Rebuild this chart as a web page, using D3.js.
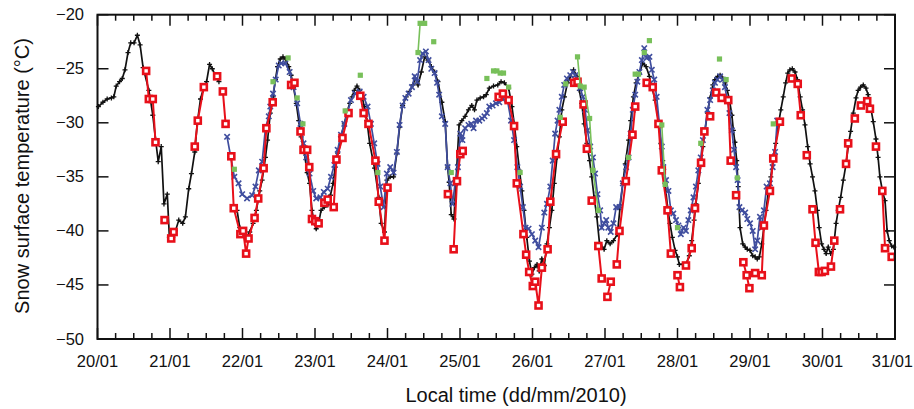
<!DOCTYPE html>
<html>
<head>
<meta charset="utf-8">
<script src="https://cdn.jsdelivr.net/npm/d3@7"></script>
<style>
  body { margin: 0; background: #fff; }
  text { font-family: "Liberation Sans", Arial, sans-serif; fill: #111; }
</style>
</head>
<body>
<div id="canvas"></div>
<script>
"use strict"

/* Values: [hours since 20/01 00:00, temperature in °C], null = gap */
let dayLabels = ["20/01", "21/01", "22/01", "23/01", "24/01", "25/01", "26/01", "27/01", "28/01", "29/01", "30/01", "31/01"];
let tempTicks = [-20, -25, -30, -35, -40, -45, -50];

let blackSeries = [
  [0.3,-28.5],[1.8,-28.1],[3.2,-27.8],[4.6,-27.7],[5.4,-27.6],[6.2,-26.6],[7.3,-26.2],[8.2,-25.9],[9.1,-25.1],
  [10.1,-23.5],[11.0,-22.6],[12.1,-22.6],[13.2,-21.9],[14.1,-22.8],[15.1,-24.9],[17.0,-27.0],[17.5,-27.8],
  [18.3,-29.3],[19.2,-31.5],[20.1,-33.6],[21.1,-32.2],[22.0,-37.5],[23.1,-36.6],[23.8,-40.6],[24.9,-40.6],
  [25.8,-40.0],[26.9,-39.0],[28.2,-39.3],[29.1,-38.7],[30.2,-36.1],[31.1,-34.7],[32.2,-32.7],[33.0,-30.1],
  [34.1,-27.8],[34.9,-27.0],[36.1,-26.2],[37.1,-24.6],[38.0,-25.0],[39.1,-25.7],[40.2,-26.2],
  null,
  [46.2,-38.1],[47.1,-39.7],[48.2,-40.1],[49.3,-40.6],[50.4,-40.1],[51.5,-39.3],[52.6,-38.1],[53.7,-36.3],
  [54.5,-35.3],[55.6,-33.2],[56.3,-31.6],[57.2,-29.1],[58.1,-27.6],[58.9,-26.0],[59.6,-24.8],[60.5,-24.1],
  [61.4,-23.9],[62.2,-24.1],[63.3,-24.8],[64.1,-25.6],[64.9,-26.7],[65.8,-28.2],[66.6,-29.8],[67.4,-31.3],
  [68.5,-32.8],[69.4,-34.6],[70.2,-35.6],[71.0,-38.1],[71.8,-39.3],[72.4,-39.8],[73.2,-39.3],[74.0,-38.1],
  [75.1,-37.8],[76.2,-37.6],[77.1,-36.7],[78.0,-35.6],[78.7,-34.1],[79.5,-32.8],[80.6,-31.3],[81.7,-30.1],
  [82.6,-29.0],[83.5,-28.2],[84.3,-27.6],[85.0,-27.0],[85.9,-26.6],[86.8,-27.0],[87.6,-27.6],[88.3,-28.5],
  [89.2,-29.8],[90.1,-31.9],[91.7,-34.2],[93.1,-36.9],[93.9,-39.3],[95.0,-40.1],[95.8,-35.3],[96.9,-35.0],
  [98.0,-35.0],[99.1,-32.8],[100.0,-30.4],[101.0,-28.4],[102.2,-27.6],[103.3,-27.1],[104.4,-26.5],[105.2,-25.9],
  [106.1,-26.5],[107.2,-25.3],[108.3,-23.9],[109.4,-24.2],[110.5,-24.8],[111.6,-25.3],[112.7,-26.2],[114.0,-28.1],
  [115.1,-29.9],[115.9,-34.1],[116.4,-35.5],[117.1,-38.5],[118.0,-38.9],[119.7,-30.2],[120.6,-29.8],[121.7,-29.4],
  [122.8,-28.8],[123.9,-28.4],[124.8,-28.8],[125.6,-27.9],[126.7,-27.7],[127.8,-27.6],[128.7,-27.4],[129.7,-26.8],
  [131.1,-26.6],[132.5,-26.5],[133.6,-26.2],[134.7,-26.3],[136.1,-26.8],[137.2,-28.5],[138.0,-30.2],[138.8,-32.2],
  [139.7,-34.4],[140.5,-36.3],[141.2,-38.1],[142.1,-40.6],[143.0,-42.8],[143.8,-44.0],[144.6,-43.4],[145.5,-43.1],
  [146.2,-43.7],[147.1,-42.6],[147.9,-43.2],[148.8,-41.2],[149.6,-39.7],[150.4,-38.1],[151.2,-35.6],[152.1,-33.2],
  [152.9,-31.3],[153.7,-28.8],[154.6,-27.6],[155.6,-26.3],[156.5,-25.7],[157.6,-25.1],[158.7,-25.7],[159.5,-27.0],
  [160.3,-28.2],[161.1,-30.1],[162.0,-31.9],[162.9,-33.5],[163.6,-35.0],[164.4,-36.9],[165.3,-38.7],[166.2,-41.2],
  [167.0,-41.5],[167.7,-41.7],[168.6,-40.9],[169.7,-41.2],[170.8,-40.9],[172.1,-40.3],[173.0,-37.8],[173.9,-35.6],
  [174.7,-33.8],[175.8,-31.6],[176.5,-29.8],[177.4,-27.6],[178.3,-26.3],[179.4,-25.4],[180.5,-24.5],[181.6,-24.8],
  [182.7,-25.7],[183.5,-26.7],[184.6,-27.9],[185.7,-29.8],[186.5,-31.9],[187.1,-33.5],[187.9,-35.6],[188.7,-37.8],
  [189.5,-39.3],[190.3,-40.6],[191.2,-41.8],[192.0,-42.4],[192.6,-43.1],[193.7,-43.1],[194.8,-43.1],[195.9,-42.3],
  [196.7,-40.9],[197.5,-39.0],[198.1,-37.5],[198.9,-35.6],[199.7,-33.8],[200.4,-32.2],[201.1,-30.7],[201.9,-29.1],
  [202.8,-27.7],[203.7,-26.5],[204.4,-26.0],[205.3,-25.7],[206.1,-25.6],[207.0,-25.9],[207.7,-26.3],[208.5,-27.0],
  [209.2,-27.9],[210.0,-29.3],[210.5,-30.7],[211.0,-31.8],[211.6,-33.5],[212.1,-35.9],[212.7,-39.7],[213.6,-41.2],
  [214.4,-41.5],[215.1,-41.7],[216.0,-41.8],[216.9,-42.3],[217.7,-42.4],[218.4,-42.6],[219.1,-42.4],[219.9,-41.2],
  [220.6,-39.7],[221.3,-38.1],[222.1,-36.3],[222.9,-35.0],[223.7,-33.2],[224.5,-31.9],[225.4,-30.2],[226.2,-28.8],
  [227.0,-27.6],[227.8,-26.3],[228.5,-25.4],[229.2,-25.1],[230.0,-25.0],[230.9,-25.3],[231.7,-26.0],[232.6,-27.6],
  [233.4,-28.8],[234.2,-30.2],[235.1,-32.2],[235.9,-33.8],[236.7,-35.0],[237.5,-36.3],[238.3,-38.1],[238.9,-39.7],
  [239.7,-41.2],[240.5,-41.7],[241.2,-42.1],[241.9,-41.5],[242.7,-42.1],[243.6,-41.7],[244.5,-39.3],[245.2,-38.1],
  [246.0,-36.9],[246.9,-35.3],[247.8,-33.8],[248.5,-32.2],[249.3,-30.8],[250.2,-29.1],[251.1,-27.7],[251.8,-27.0],
  [252.6,-26.7],[253.5,-26.5],[254.4,-26.8],[255.1,-27.4],[255.9,-28.5],[256.8,-29.9],[257.7,-31.5],[258.4,-33.2],
  [259.0,-35.0],[259.9,-36.4],[260.7,-37.2],[261.4,-40.0],[262.1,-40.9],[262.9,-41.4],[263.6,-41.5]
];

let blueSeries = [
  [42.9,-31.3],[45.3,-35.0],[46.7,-35.6],[47.9,-36.6],[49.5,-37.0],[51.2,-36.7],[52.3,-35.9],[53.4,-34.4],
  [54.5,-33.6],[55.6,-30.5],[56.7,-29.4],[57.2,-28.5],[58.1,-27.3],[59.0,-26.0],[60.0,-24.7],[60.8,-24.5],
  [62.2,-24.5],[63.6,-25.3],[64.9,-26.7],[66.1,-28.2],[67.2,-30.1],[68.2,-31.9],[69.1,-33.2],[70.2,-34.7],
  [71.4,-36.3],[72.4,-37.0],[73.8,-36.9],[74.9,-36.4],[76.2,-36.1],[77.3,-35.0],[78.4,-33.9],[79.5,-32.5],
  [80.6,-31.1],[81.7,-30.1],[82.8,-29.0],[83.9,-27.9],[85.3,-27.3],[86.8,-27.1],[88.1,-27.6],[89.4,-28.5],
  [90.5,-30.1],[91.6,-31.9],[92.7,-33.8],[93.6,-35.9],[94.7,-37.8],[95.8,-34.7],[96.9,-34.1],[98.0,-34.6],
  [99.1,-32.7],[100.0,-30.2],[101.0,-28.4],[101.9,-27.7],[103.0,-27.3],[104.1,-26.7],[105.0,-25.7],[105.8,-26.2],
  [106.8,-24.2],[107.6,-23.6],[108.7,-23.4],[109.6,-24.2],[110.5,-25.0],[111.6,-25.4],[112.4,-26.3],[113.1,-27.4],
  [114.0,-29.4],[115.1,-30.1],[115.9,-34.1],[116.8,-35.6],[117.5,-37.5],[118.4,-35.6],[119.3,-34.1],[120.1,-31.0],
  [120.8,-31.6],[121.7,-30.5],[122.8,-30.2],[123.7,-30.1],[124.5,-30.5],[125.3,-29.8],[126.4,-29.8],[127.3,-29.6],
  [128.1,-29.4],[128.9,-29.1],[129.7,-28.5],[130.8,-28.4],[131.9,-28.2],[133.0,-28.1],[134.1,-27.8],[135.7,-27.9],
  [136.9,-29.8],[137.9,-31.6],[139.0,-34.1],[139.9,-35.9],[140.8,-37.8],[141.7,-39.7],[142.7,-39.8],[143.8,-40.3],
  [144.9,-40.9],[146.0,-41.5],[147.1,-39.7],[147.9,-38.3],[148.8,-37.5],[149.9,-35.9],[150.7,-33.5],[151.5,-31.0],
  [152.3,-29.8],[152.9,-28.8],[153.7,-27.6],[154.5,-26.5],[155.4,-25.9],[156.5,-25.6],[157.4,-25.3],[158.1,-25.6],
  [158.9,-26.3],[159.8,-26.8],[160.7,-27.6],[161.4,-28.8],[162.2,-30.7],[163.1,-32.2],[164.0,-33.2],[164.7,-34.7],
  [165.5,-36.6],[166.4,-38.1],[166.9,-39.7],[167.7,-39.3],[168.4,-39.0],[169.1,-39.7],[169.9,-40.1],[170.8,-39.3],
  [171.7,-37.8],[172.8,-37.8],[173.9,-35.6],[175.0,-34.1],[175.8,-33.2],[176.5,-31.0],[177.2,-28.8],[178.0,-27.4],
  [178.7,-26.2],[179.4,-25.3],[180.2,-24.2],[181.0,-23.1],[181.8,-24.0],[182.7,-23.9],[183.5,-25.1],[184.3,-26.0],
  [185.1,-27.6],[186.0,-30.1],[186.8,-32.2],[187.3,-34.1],[188.2,-35.3],[189.0,-36.3],[189.8,-38.1],[190.6,-38.4],
  [191.5,-39.0],[192.3,-39.5],[193.1,-40.3],[194.0,-39.7],[194.8,-40.0],[195.6,-39.0],[196.4,-38.1],[197.3,-36.9],
  [198.1,-35.9],[198.9,-34.4],[199.7,-33.2],[200.4,-31.6],[201.1,-30.7],[201.9,-28.8],[202.8,-27.9],[203.7,-27.0],
  [204.4,-26.3],[205.2,-26.0],[206.1,-25.7],[207.0,-26.0],[207.7,-26.7],[208.5,-27.9],[209.2,-29.1],[210.0,-30.7],
  [210.7,-32.5],[211.4,-34.1],[211.9,-35.3],[212.5,-37.8],[213.3,-38.1],[214.4,-38.3],[215.1,-38.9],[216.0,-39.3],
  [216.9,-40.0],[217.7,-41.7],[218.4,-40.9],[219.3,-38.7],[219.9,-39.7],[220.6,-38.1],[221.5,-35.9],[222.6,-35.6],
  [223.5,-34.1],[224.3,-32.7],[225.0,-29.8]
];

let redSeries = [
  [16.1,-25.2],[17.0,-27.8],[18.3,-27.8],[19.2,-31.8], null,
  [22.2,-39.0], null,
  [24.4,-40.7],[25.2,-40.1], null,
  [32.2,-32.2],[33.2,-29.8],[35.2,-26.7], null,
  [39.6,-25.7], null,
  [41.5,-27.1],[42.4,-30.1], null,
  [44.3,-33.1],[45.1,-37.9],[47.3,-40.3],[48.2,-40.0],[49.2,-42.1],[50.0,-40.7],[52.0,-38.8],[53.2,-37.0],
  [55.0,-34.2],[55.9,-30.5],[58.0,-28.1], null,
  [64.1,-26.5],[65.2,-26.3], null,
  [67.2,-30.8],[68.2,-32.5],[69.4,-32.5],[70.1,-34.1],[71.0,-38.9],[72.1,-39.1],[73.2,-39.3], null,
  [75.1,-37.4],[76.2,-37.1], null,
  [78.2,-37.8],[79.1,-33.4],[81.1,-31.4],[83.1,-29.1], null,
  [87.0,-27.5],[88.1,-29.1],[89.7,-30.1],[92.0,-33.5],[93.1,-37.3],[95.0,-40.9],[96.0,-36.0], null,
  [116.0,-36.6], null,
  [117.9,-41.7],[119.0,-35.4],[120.1,-32.9],[120.9,-32.6], null,
  [132.8,-27.6],[134.2,-27.3],[136.1,-27.9],[137.9,-30.3],[138.8,-35.6],[141.0,-40.3],[141.9,-42.2],[142.9,-43.8],
  [144.1,-45.1],[144.9,-44.7],[146.0,-46.9],[147.1,-43.4],[149.0,-41.7],[149.9,-37.3],[151.8,-32.9],[154.0,-29.9], null,
  [157.8,-26.3],[158.9,-26.2], null,
  [160.9,-28.3],[162.0,-32.4], null,
  [163.6,-37.2], null,
  [165.8,-41.4],[166.9,-44.4], null,
  [168.8,-46.1],[169.9,-44.7], null,
  [171.9,-43.1],[172.8,-40.0],[174.9,-35.4],[177.1,-31.1],[178.0,-28.5], null,
  [181.8,-26.3],[183.8,-26.7],[185.7,-30.1],[186.8,-34.4],[188.7,-38.1],[189.8,-42.1], null,
  [192.0,-44.1],[192.8,-45.2], null,
  [194.8,-43.2],[196.7,-41.6],[197.8,-37.9],[199.8,-33.7],[200.9,-30.8], null,
  [202.8,-29.4], null,
  [204.8,-27.2], null,
  [206.6,-27.7], null,
  [208.8,-27.9],[209.6,-33.5], null,
  [211.4,-36.7], null,
  [213.8,-42.9],[214.9,-44.1],[215.8,-45.3], null,
  [217.7,-43.9], null,
  [219.9,-44.1],[220.6,-39.5],[222.6,-36.3],[223.7,-33.3],[225.9,-29.9], null,
  [229.8,-25.9],[231.8,-26.4],[232.8,-29.3], null,
  [234.8,-33.0], null,
  [236.7,-38.0],[237.7,-41.1],[238.8,-43.8], null,
  [239.7,-43.8],[240.8,-43.7], null,
  [242.8,-43.3],[243.9,-40.9], null,
  [245.8,-38.0], null,
  [247.8,-33.8],[248.5,-31.9], null,
  [250.7,-29.6], null,
  [252.7,-28.4], null,
  [254.8,-28.0],[255.7,-28.7], null,
  [257.7,-32.2], null,
  [259.8,-36.3],[260.7,-41.6], null,
  [262.9,-42.4]
];

let greenSeries = [
  [45.3,-34.3], null, [58.1,-26.2], null, [63.1,-24.0], null, [66.1,-27.7], null, [68.0,-30.1], null,
  [82.0,-28.9], null, [87.0,-25.6], null, [92.8,-34.6], null,
  [106.1,-23.5],[106.8,-20.8],[108.3,-20.8], null, [111.3,-22.5], null, [117.1,-34.6], null,
  [128.9,-25.9], null, [131.1,-25.2],[132.2,-25.2],[133.3,-25.4],[134.4,-25.4], null,
  [136.1,-26.7], null, [139.9,-34.6], null, [153.2,-29.5], null, [155.0,-26.4], null,
  [158.9,-23.9],[159.8,-26.6],[161.1,-26.7],[162.9,-29.6],[164.0,-34.4],[165.8,-38.1], null,
  [175.8,-33.2], null, [178.0,-25.5],[179.1,-25.5], null, [181.0,-23.5], null, [182.7,-22.4], null,
  [186.8,-30.2],[187.9,-35.7], null, [192.0,-39.7], null, [199.7,-31.9], null, [205.9,-24.1], null,
  [208.1,-26.0], null, [211.8,-35.1], null, [223.7,-30.1]
];

/* drawing area */
let drawing = d3.select("#canvas")
    .append("svg")
    .attr("width", 914)
    .attr("height", 409);

let plotLeft = 97.5, plotRight = 895, plotTop = 14.7, plotBottom = 339;

let x = d3.scaleLinear().domain([0, 264]).range([plotLeft, plotRight]);
let y = d3.scaleLinear().domain([-50, -20]).range([plotBottom, plotTop]);

let line = d3.line()
    .defined(d => d !== null)
    .x(d => x(d[0]))
    .y(d => y(d[1]));

let pts = s => s.filter(d => d !== null);

/* ticks on all four sides, pointing inward */
let ticks = drawing.append("g").attr("stroke", "#111").attr("stroke-width", 1.5);
d3.range(0, 265, 6).forEach(h => {
    let len = h % 24 === 0 ? 11 : 6;
    ticks.append("line").attr("x1", x(h)).attr("x2", x(h)).attr("y1", plotBottom).attr("y2", plotBottom - len);
    ticks.append("line").attr("x1", x(h)).attr("x2", x(h)).attr("y1", plotTop).attr("y2", plotTop + len);
});
tempTicks.forEach(t => {
    ticks.append("line").attr("x1", plotLeft).attr("x2", plotLeft + 11).attr("y1", y(t)).attr("y2", y(t));
    ticks.append("line").attr("x1", plotRight).attr("x2", plotRight - 11).attr("y1", y(t)).attr("y2", y(t));
});

/* black series */
drawing.append("path")
    .attr("d", line(blackSeries))
    .attr("fill", "none")
    .attr("stroke", "#111")
    .attr("stroke-width", 1.7);
drawing.append("g").selectAll("path")
    .data(pts(blackSeries))
    .join("path")
    .attr("d", "M-2.5,0H2.5M0,-2.5V2.5")
    .attr("transform", d => `translate(${x(d[0])},${y(d[1])})`)
    .attr("stroke", "#111")
    .attr("stroke-width", 1.3);

/* blue series */
drawing.append("path")
    .attr("d", line(blueSeries))
    .attr("fill", "none")
    .attr("stroke", "#3f4d9e")
    .attr("stroke-width", 1.7);
drawing.append("g").selectAll("path")
    .data(pts(blueSeries))
    .join("path")
    .attr("d", "M-2.7,-2.7L2.7,2.7M-2.7,2.7L2.7,-2.7")
    .attr("transform", d => `translate(${x(d[0])},${y(d[1])})`)
    .attr("stroke", "#3f4d9e")
    .attr("stroke-width", 1.6);

/* red series */
drawing.append("path")
    .attr("d", line(redSeries))
    .attr("fill", "none")
    .attr("stroke", "#e8101a")
    .attr("stroke-width", 2);
drawing.append("g").selectAll("rect")
    .data(pts(redSeries))
    .join("rect")
    .attr("x", d => x(d[0]) - 3)
    .attr("y", d => y(d[1]) - 3)
    .attr("width", 6)
    .attr("height", 6)
    .attr("fill", "#fff")
    .attr("stroke", "#e8101a")
    .attr("stroke-width", 2.6);

/* green series */
drawing.append("path")
    .attr("d", line(greenSeries))
    .attr("fill", "none")
    .attr("stroke", "#78c05a")
    .attr("stroke-width", 1.6);
drawing.append("g").selectAll("rect")
    .data(pts(greenSeries))
    .join("rect")
    .attr("x", d => x(d[0]) - 2.6)
    .attr("y", d => y(d[1]) - 2.6)
    .attr("width", 5.2)
    .attr("height", 5.2)
    .attr("fill", "#78c05a");

/* frame */
let border = drawing.append("rect")
    .attr("x", plotLeft).attr("y", plotTop)
    .attr("width", plotRight - plotLeft).attr("height", plotBottom - plotTop)
    .attr("fill", "none")
    .attr("stroke", "#111")
    .attr("stroke-width", 2);

/* tick labels; the last one sits flush with the page edge as in the original */
dayLabels.forEach((lab, i) => {
    let last = i === dayLabels.length - 1;
    drawing.append("text")
        .attr("x", last ? 913 : x(i * 24)).attr("y", 367)
        .attr("text-anchor", last ? "end" : "middle")
        .attr("font-size", 16.5)
        .text(lab);
});
tempTicks.forEach(t => {
    drawing.append("text")
        .attr("x", 84).attr("y", y(t) + 5.5)
        .attr("text-anchor", "end")
        .attr("font-size", 16.5)
        .text(String(t).replace("-", "\u2212"));
});

/* axis titles */
drawing.append("text")
    .attr("x", 516).attr("y", 402)
    .attr("text-anchor", "middle")
    .attr("font-size", 20)
    .text("Local time (dd/mm/2010)");
drawing.append("text")
    .attr("transform", "translate(29,176) rotate(-90)")
    .attr("text-anchor", "middle")
    .attr("font-size", 20)
    .text("Snow surface temperature (\u00B0C)");
</script>
</body>
</html>
